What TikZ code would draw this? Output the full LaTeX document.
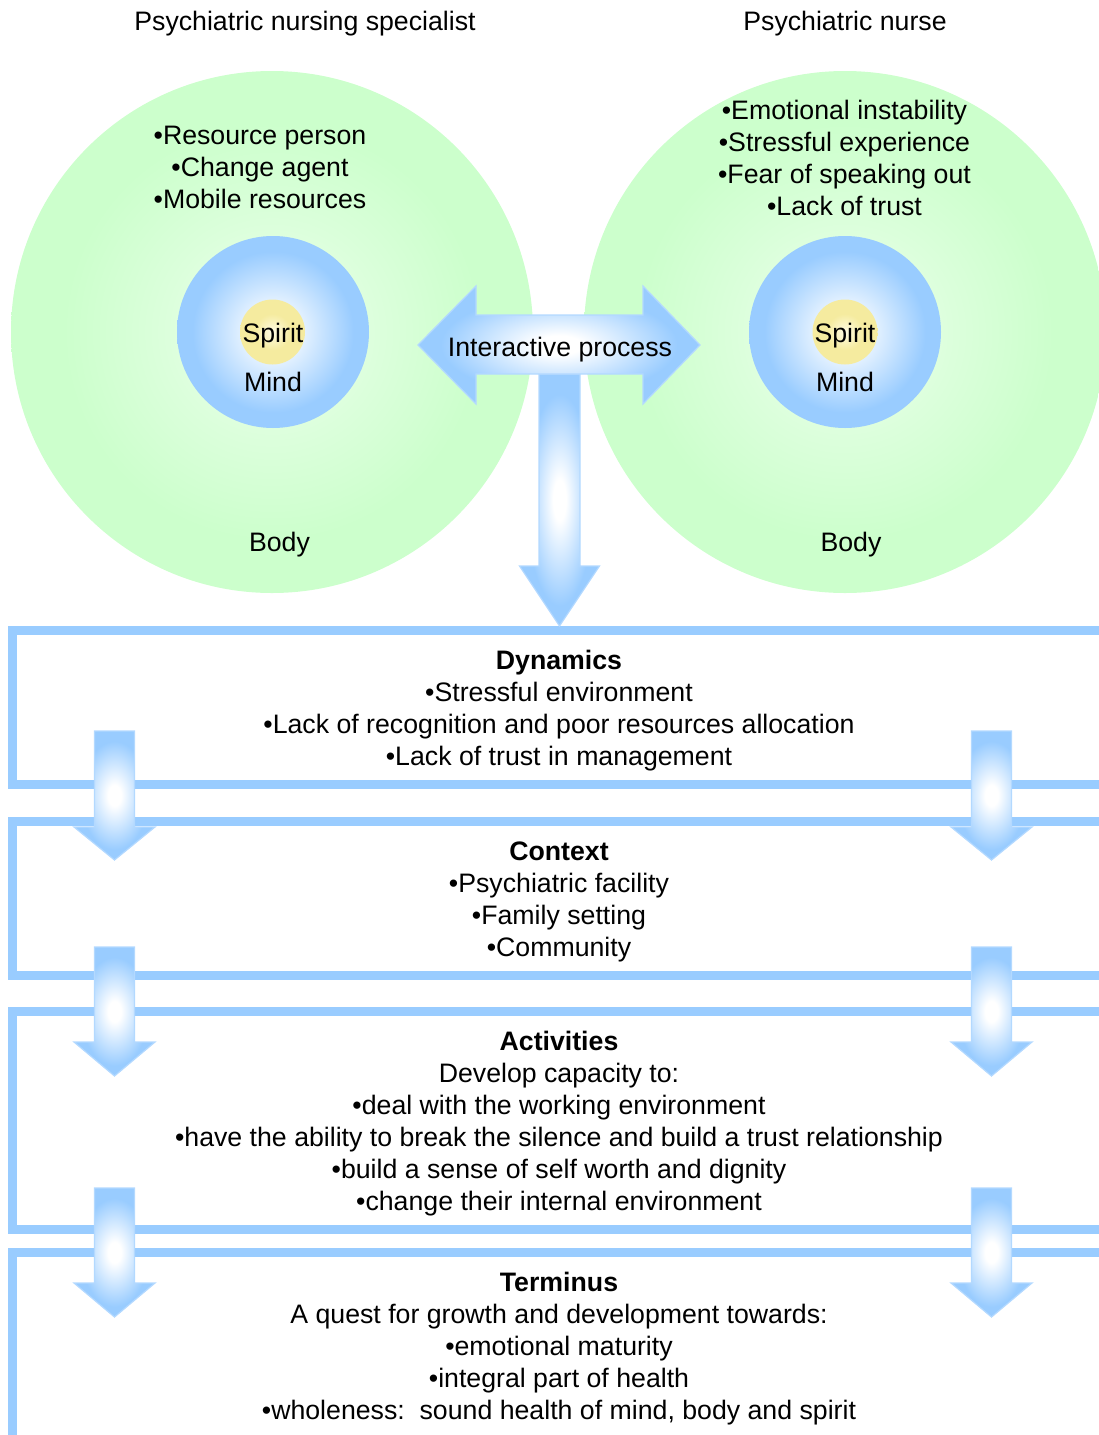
\documentclass[tikz,border=0pt]{standalone}
\usepackage{fontspec}
\setmainfont{Liberation Sans}
\definecolor{boxline}{HTML}{99CCFF}
\definecolor{greenrim}{HTML}{CCFFCC}
\definecolor{greenmid}{HTML}{DCFFDC}
\definecolor{greencore}{HTML}{F4FFF4}
\definecolor{bluerim}{HTML}{99CCFF}
\definecolor{yellowrim}{HTML}{F5EB9F}
\definecolor{yellowcore}{HTML}{FFFCE4}
\definecolor{arrowedge}{HTML}{B3D9FF}
% radial shadings: 25bp corresponds to the half-size of the shaded path
\pgfdeclareradialshading{greenglow}{\pgfpoint{0bp}{0bp}}{color(0bp)=(greencore); color(10bp)=(greenmid); color(20bp)=(greenrim); color(50bp)=(greenrim)}
\pgfdeclareradialshading{mindglow}{\pgfpoint{0bp}{0bp}}{color(0bp)=(white); color(3bp)=(white); color(21bp)=(bluerim); color(50bp)=(bluerim)}
\pgfdeclareradialshading{spiritglow}{\pgfpoint{0bp}{0bp}}{color(0bp)=(yellowcore); color(14bp)=(yellowrim); color(50bp)=(yellowrim)}
\pgfdeclareradialshading{arrowglow}{\pgfpoint{0bp}{0bp}}{color(0bp)=(white); color(4bp)=(white); color(21bp)=(bluerim); color(50bp)=(bluerim)}
% block arrow pointing down: centre x, shaft top, head base, tip
\newcommand{\downblock}[4]{%
  \shadedraw[blockarrow] (#1-20,#2) -- (#1+20,#2) -- (#1+20,#3) -- (#1+40.5,#3)
    -- (#1,#4) -- (#1-40.5,#3) -- (#1-20,#3) -- cycle;}
\begin{document}
\begin{tikzpicture}[x=1pt,y=-1pt,
  txt/.style={font=\fontsize{26.7}{32}\selectfont, align=center, inner sep=0pt, text=black},
  bodyball/.style={circle, minimum size=522pt, inner sep=0pt, shade, shading=greenglow},
  mindball/.style={circle, minimum size=192pt, inner sep=0pt, shade, shading=mindglow},
  spiritball/.style={circle, minimum size=65pt, inner sep=0pt, shade, shading=spiritglow},
  frame/.style={draw=boxline, line width=9pt},
  blockarrow/.style={shading=arrowglow, draw=arrowedge, line width=1.2pt, line join=miter},
]
\useasboundingbox (0,0) rectangle (1099,1435);
\clip (0,0) rectangle (1099,1435);

% two persons: body, mind and spirit
\node[bodyball] (bodyL) at (272,332) {};
\node[bodyball] (bodyR) at (845,332) {};
\node[mindball] (mindL) at (273,332) {};
\node[mindball] (mindR) at (845,332) {};
\node[spiritball] (spiritL) at (272.5,332) {};
\node[spiritball] (spiritR) at (845,332) {};

% stages
\draw[frame] (12.5,630.5) rectangle (1120,784.5);
\draw[frame] (12.5,821.5) rectangle (1120,975.5);
\draw[frame] (12.5,1011.5) rectangle (1120,1229.5);
\draw[frame] (12.5,1252.5) rectangle (1120,1439.5);

% interactive process and its outcome
\shadedraw[blockarrow] (539,374) -- (580,374) -- (580,566) -- (599.5,566)
  -- (559.5,626) -- (519.5,566) -- (539,566) -- cycle;
\shadedraw[blockarrow] (418,345) -- (476,286) -- (476,315) -- (643,315)
  -- (643,286) -- (700,345) -- (643,404) -- (643,374) -- (476,374)
  -- (476,404) -- cycle;

% arrows between stages
\downblock{114.5}{731}{827}{860}
\downblock{991.5}{731}{827}{860}
\downblock{114.5}{947}{1042}{1076}
\downblock{991.5}{947}{1042}{1076}
\downblock{114.5}{1188}{1283}{1317}
\downblock{991.5}{1188}{1283}{1317}

% labels
\node[txt, anchor=base] (titleL) at (305,30) {Psychiatric nursing specialist};
\node[txt, anchor=base] (titleR) at (845,30) {Psychiatric nurse};
\node[txt] (rolesL) at (260,170.1) {\strut•Resource person\\•Change agent\\•Mobile resources\strut};
\node[txt] (rolesR) at (844.5,161.1) {\strut•Emotional instability\\•Stressful experience\\•Fear of speaking out\\•Lack of trust\strut};
\node[txt, anchor=base] (spiritLtxt) at (273,342) {Spirit};
\node[txt, anchor=base] (mindLtxt) at (273,391) {Mind};
\node[txt, anchor=base] (bodyLtxt) at (279.5,551) {Body};
\node[txt, anchor=base] (spiritRtxt) at (845,342) {Spirit};
\node[txt, anchor=base] (mindRtxt) at (845,391) {Mind};
\node[txt, anchor=base] (bodyRtxt) at (851,551) {Body};
\node[txt, anchor=base] (interact) at (560,356) {Interactive process};

\node[txt] (dynamics) at (559,711.1) {\strut\textbf{Dynamics}\\•Stressful environment\\•Lack of recognition and poor resources allocation\\•Lack of trust in management\strut};
\node[txt] (context) at (559,902.1) {\strut\textbf{Context}\\•Psychiatric facility\\•Family setting\\•Community\strut};
\node[txt] (activities) at (559,1124.1) {\strut\textbf{Activities}\\Develop capacity to:\\•deal with the working environment\\•have the ability to break the silence and build a trust relationship\\•build a sense of self worth and dignity\\•change their internal environment\strut};
\node[txt] (terminus) at (559,1349.1) {\strut\textbf{Terminus}\\A quest for growth and development towards:\\•emotional maturity\\•integral part of health\\•wholeness:\ \ sound health of mind, body and spirit\strut};
\end{tikzpicture}
\end{document}
